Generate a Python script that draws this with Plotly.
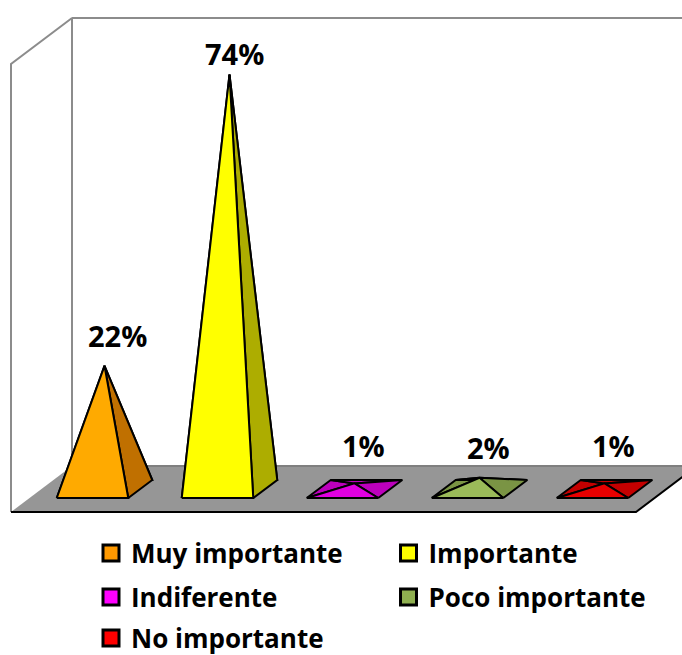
import plotly.graph_objects as go

# Survey shares, in percent
categories = ["Muy importante", "Importante", "Indiferente", "Poco importante", "No importante"]
values = [22, 74, 1, 2, 1]
front_colors = ["#FFAA00", "#FFFF00", "#E000E0", "#9BBB59", "#E80000"]
side_colors = ["#C07000", "#ADAD00", "#BC00BC", "#7A9444", "#C40000"]
legend_colors = ["#FF9900", "#FFFF00", "#FF00FF", "#8FB050", "#FF0000"]

WIDTH, HEIGHT = 682, 655
AXIS_MAX = 80
PX_PER_CATEGORY = 125
PX_PER_PERCENT = 5.6
ZERO_X, ZERO_Y = 104.5, 489  # pixel position of the first pyramid's base centre

HALF_W = 35.75 / PX_PER_CATEGORY
DEPTH_X = 12 / PX_PER_CATEGORY
DEPTH_Y = 9 / PX_PER_PERCENT
FLOOR_DX = 30.5 / PX_PER_CATEGORY
FLOOR_DY = 23 / PX_PER_PERCENT
FLOOR_LEFT = (41.5 - ZERO_X) / PX_PER_CATEGORY
FLOOR_RIGHT = (666.5 - ZERO_X) / PX_PER_CATEGORY

FONT = "'Open Sans', Lato, sans-serif"
LINE = dict(color="black", width=2)
GREY = dict(color="#8C8C8C", width=2)

fig = go.Figure()


def polygon(xs, ys, fill, line):
    fig.add_trace(go.Scatter(
        x=xs + xs[:1], y=ys + ys[:1], mode="lines", fill="toself", fillcolor=fill,
        line=line, showlegend=False, hoverinfo="skip",
    ))


def edge(xs, ys, line):
    fig.add_trace(go.Scatter(x=xs, y=ys, mode="lines", line=line,
                             showlegend=False, hoverinfo="skip"))


# Floor and the two walls of the 3D box
fl, fr = FLOOR_LEFT - FLOOR_DX, FLOOR_RIGHT - FLOOR_DX
bl, br = FLOOR_LEFT + FLOOR_DX, FLOOR_RIGHT + FLOOR_DX
polygon([fl, fr, br, bl], [-FLOOR_DY, -FLOOR_DY, FLOOR_DY, FLOOR_DY], "#969696",
        dict(color="rgba(0,0,0,0)", width=0))
edge([bl, br], [FLOOR_DY, FLOOR_DY], dict(color="#7F7F7F", width=2))
edge([fl, fl, bl, bl], [-FLOOR_DY, AXIS_MAX - FLOOR_DY, AXIS_MAX + FLOOR_DY, FLOOR_DY], GREY)
edge([bl, br], [AXIS_MAX + FLOOR_DY] * 2, GREY)
edge([fl, fr, br], [-FLOOR_DY, -FLOOR_DY, FLOOR_DY], dict(color="black", width=2))

# One pyramid per category; the apex height is the category's value
for i, (value, front, side) in enumerate(zip(values, front_colors, side_colors)):
    x_fl, x_fr = i - HALF_W - DEPTH_X, i + HALF_W - DEPTH_X
    x_bl, x_br = i - HALF_W + DEPTH_X, i + HALF_W + DEPTH_X
    polygon([x_fl, x_bl, i], [-DEPTH_Y, DEPTH_Y, value], side, LINE)
    polygon([x_bl, x_br, i], [DEPTH_Y, DEPTH_Y, value], side, LINE)
    polygon([x_fr, x_br, i], [-DEPTH_Y, DEPTH_Y, value], side, LINE)
    polygon([x_fl, x_fr, i], [-DEPTH_Y, -DEPTH_Y, value], front, LINE)

# Value labels, hand-placed above each apex
label_shift = [(13, 30), (5, 21), (9, 38), (9, 30), (9, 38)]
for i, (value, (dx, dy)) in enumerate(zip(values, label_shift)):
    fig.add_annotation(x=i, y=value, text=f"{value}%", showarrow=False,
                       xshift=dx, yshift=dy, yanchor="middle", xanchor="center",
                       font=dict(family=FONT, size=29, color="black", weight="bold"))

# Legend entries, laid out in two columns
legend_spots = [(91, 553), (388.5, 553), (91, 597), (388.5, 597), (91, 638)]
legend_layout = {}
for i, (name, color, (px, py)) in enumerate(zip(categories, legend_colors, legend_spots)):
    key = "legend" if i == 0 else f"legend{i + 1}"
    fig.add_trace(go.Scatter(
        x=[None], y=[None], mode="markers", name=name, legend=key,
        marker=dict(symbol="square", size=16, color=color, line=dict(color="black", width=3)),
    ))
    legend_layout[key] = dict(
        x=px / WIDTH, y=1 - py / HEIGHT, xanchor="left", yanchor="middle",
        bgcolor="rgba(0,0,0,0)", borderwidth=0,
        font=dict(family=FONT, size=26, color="black", weight="bold"),
    )

fig.update_layout(
    width=WIDTH, height=HEIGHT,
    margin=dict(l=0, r=0, t=0, b=0, autoexpand=False),
    paper_bgcolor="white", plot_bgcolor="white",
    showlegend=True,
    xaxis=dict(range=[-ZERO_X / PX_PER_CATEGORY, (WIDTH - ZERO_X) / PX_PER_CATEGORY],
               visible=False, fixedrange=True),
    yaxis=dict(range=[(ZERO_Y - HEIGHT) / PX_PER_PERCENT, ZERO_Y / PX_PER_PERCENT],
               visible=False, fixedrange=True),
    **legend_layout,
)

fig.write_html("out.html", config=dict(displayModeBar=False))
